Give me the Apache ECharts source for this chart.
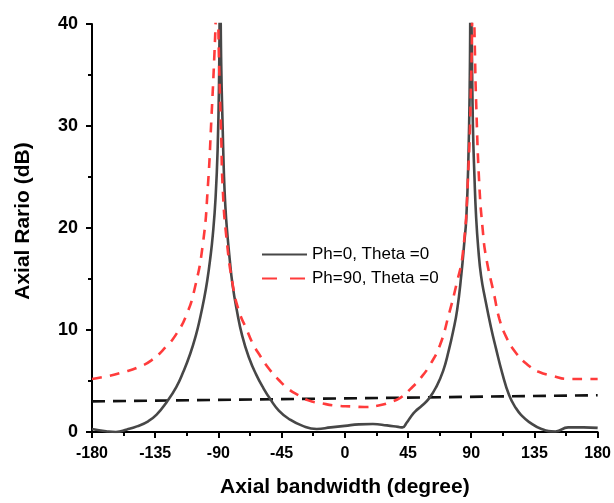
<!DOCTYPE html>
<html>
<head>
<meta charset="utf-8">
<script src="https://cdn.jsdelivr.net/npm/echarts@6/dist/echarts.min.js"></script>
<style>
  html, body { margin: 0; padding: 0; background: #fff; }
  #chart { width: 614px; height: 503px; }
</style>
</head>
<body>
<div id="chart"></div>
<script>
const FONT = 'Arial, "Liberation Sans", sans-serif'
const xTicks = [-180, -135, -90, -45, 0, 45, 90, 135, 180]

// Ph=0, Theta=0 (solid grey)
const ph0X = [-180, -170, -163, -155, -148, -140, -134, -127, -120, -115, -110, -106, -103, -100, -98, -96, -94, -92,
  -90.5, -89.5, -88.8,
  -88, -87, -86, -85, -84, -82, -80, -77, -73, -68, -63, -58, -53, -47, -40, -30, -20, -10, 0, 10, 20, 30, 38, 41,
  44, 47, 50, 55, 60, 65, 70, 74, 77, 80, 83, 85, 86.5, 88, 89, 89.6,
  90.4, 91.2, 92.3, 93.5, 95, 97, 100, 104, 107.6, 112, 117, 122, 126, 131, 140, 150, 159, 170, 180]
const ph0Y = [0.3, 0.08, 0, 0.25, 0.55, 1.05, 1.7, 2.9, 4.4, 5.9, 7.7, 9.5, 11.2, 13.2, 14.8, 16.8, 19.3, 23,
  28, 35, 45,
  36, 30, 25, 22, 20, 17, 14.5, 12, 9.4, 7.2, 5.6, 4.3, 3.2, 2.1, 1.3, 0.6, 0.3, 0.45, 0.6, 0.75, 0.78, 0.65, 0.5, 0.45,
  0.9, 1.5, 2.0, 2.6, 3.3, 4.4, 6.0, 8.0, 9.8, 12, 15.5, 18.5, 21, 27, 35, 45,
  38, 30, 25, 21, 18, 15.3, 13, 10.3, 8.2, 5.8, 3.6, 2.3, 1.6, 1.0, 0.3, 0.05, 0.45, 0.45, 0.4]

// Ph=90, Theta=0 (red dashed)
const ph90X = [-180, -168, -157, -148, -138, -127, -120, -113, -107, -101, -97.5, -95, -92.8, -91.8, -91,
  -89.5, -88, -87, -84.4, -79.5, -75, -70, -66, -60, -54, -47, -40, -33, -26, -16, -7, 5, 14, 24, 32, 40, 46.6,
  54, 60.7, 67.7, 74, 79.5, 84, 87.7, 90, 91.4,
  92.5, 93.5, 95.8, 98.2, 100.5, 106.4, 110, 114.6, 121.6, 131, 138, 148, 159, 170, 180]
const ph90Y = [5.2, 5.5, 5.9, 6.3, 7.0, 8.4, 9.6, 11.4, 14, 18.5, 24.1, 30.7, 37.2, 41, 45,
  36, 29, 24.1, 19.2, 14.2, 11.7, 10.1, 8.8, 7.4, 6.2, 5.1, 4.2, 3.6, 3.1, 2.8, 2.6, 2.5, 2.45, 2.6, 2.9, 3.4, 4.2,
  5.3, 6.6, 8.5, 11.5, 14.5, 17.5, 25, 35, 45,
  38, 32.3, 24.1, 19.8, 17.2, 13.4, 11.1, 9.4, 7.8, 6.5, 5.9, 5.5, 5.2, 5.2, 5.2]

// 3 dB reference line (black dashed)
const refX = [-180, 180]
const refY = [3.0, 3.6]

const pairs = (xs, ys) => xs.map((x, i) => [x, ys[i]])

const chart = echarts.init(document.getElementById('chart'), null, { renderer: 'canvas' })

chart.setOption({
  backgroundColor: '#fff',
  animation: false,
  textStyle: { fontFamily: FONT },
  grid: { left: 92, right: 11, top: 24, bottom: 70, containLabel: false },
  legend: {
    orient: 'vertical',
    left: 256, top: 241,
    itemWidth: 45, itemHeight: 12, itemGap: 7,
    itemStyle: { opacity: 0 },
    data: [
      { name: 'Ph=0, Theta =0' },
      { name: 'Ph=90, Theta =0', lineStyle: { type: [15, 13] } },
    ],
    textStyle: { color: '#000', fontSize: 17, fontFamily: FONT, padding: [0, 0, 0, 0] },
  },
  xAxis: {
    type: 'value',
    min: -180, max: 180, interval: 45,
    name: 'Axial bandwidth (degree)',
    nameLocation: 'middle', nameGap: 45,
    nameTextStyle: { color: '#000', fontSize: 21, fontWeight: 'bold', fontFamily: FONT },
    axisLine: { show: true, onZero: false, lineStyle: { color: '#000', width: 2 } },
    axisTick: { show: true, inside: false, length: 6, lineStyle: { color: '#000', width: 2 } },
    minorTick: { show: true, splitNumber: 2, length: 4, lineStyle: { color: '#000', width: 2 } },
    axisLabel: {
      color: '#000', fontSize: 16, fontWeight: 'bold', margin: 14, fontFamily: FONT,
      customValues: xTicks,
    },
    splitLine: { show: false },
  },
  yAxis: {
    type: 'value',
    min: 0, max: 40, interval: 10,
    name: 'Axial Rario (dB)',
    nameLocation: 'middle', nameGap: 58,
    nameTextStyle: { color: '#000', fontSize: 21, fontWeight: 'bold', fontFamily: FONT, padding: [0, 0, 0, 14] },
    axisLine: { show: true, onZero: false, lineStyle: { color: '#000', width: 2 } },
    axisTick: { show: true, inside: false, length: 6, lineStyle: { color: '#000', width: 2 } },
    minorTick: { show: true, splitNumber: 2, length: 4, lineStyle: { color: '#000', width: 2 } },
    axisLabel: { color: '#000', fontSize: 18, fontWeight: 'bold', margin: 14, fontFamily: FONT },
    splitLine: { show: false },
  },
  series: [
    {
      name: 'Ph=0, Theta =0',
      type: 'line',
      data: pairs(ph0X, ph0Y),
      symbol: 'none',
      smooth: 0.5,
      clip: true,
      lineStyle: { color: '#474747', width: 2.6 },
      itemStyle: { color: '#474747' },
      z: 3,
    },
    {
      name: 'Ph=90, Theta =0',
      type: 'line',
      data: pairs(ph90X, ph90Y),
      symbol: 'none',
      smooth: 0.5,
      clip: true,
      lineStyle: { color: '#ff3b3b', width: 2.6, type: [10, 8] },
      itemStyle: { color: '#ff3b3b' },
      z: 4,
    },
    {
      name: 'ref',
      type: 'line',
      data: pairs(refX, refY),
      symbol: 'none',
      lineStyle: { color: '#111', width: 2.6, type: [13, 8] },
      itemStyle: { color: '#111' },
      z: 2,
    },
  ],
  tooltip: { show: false },
})
</script>
</body>
</html>
